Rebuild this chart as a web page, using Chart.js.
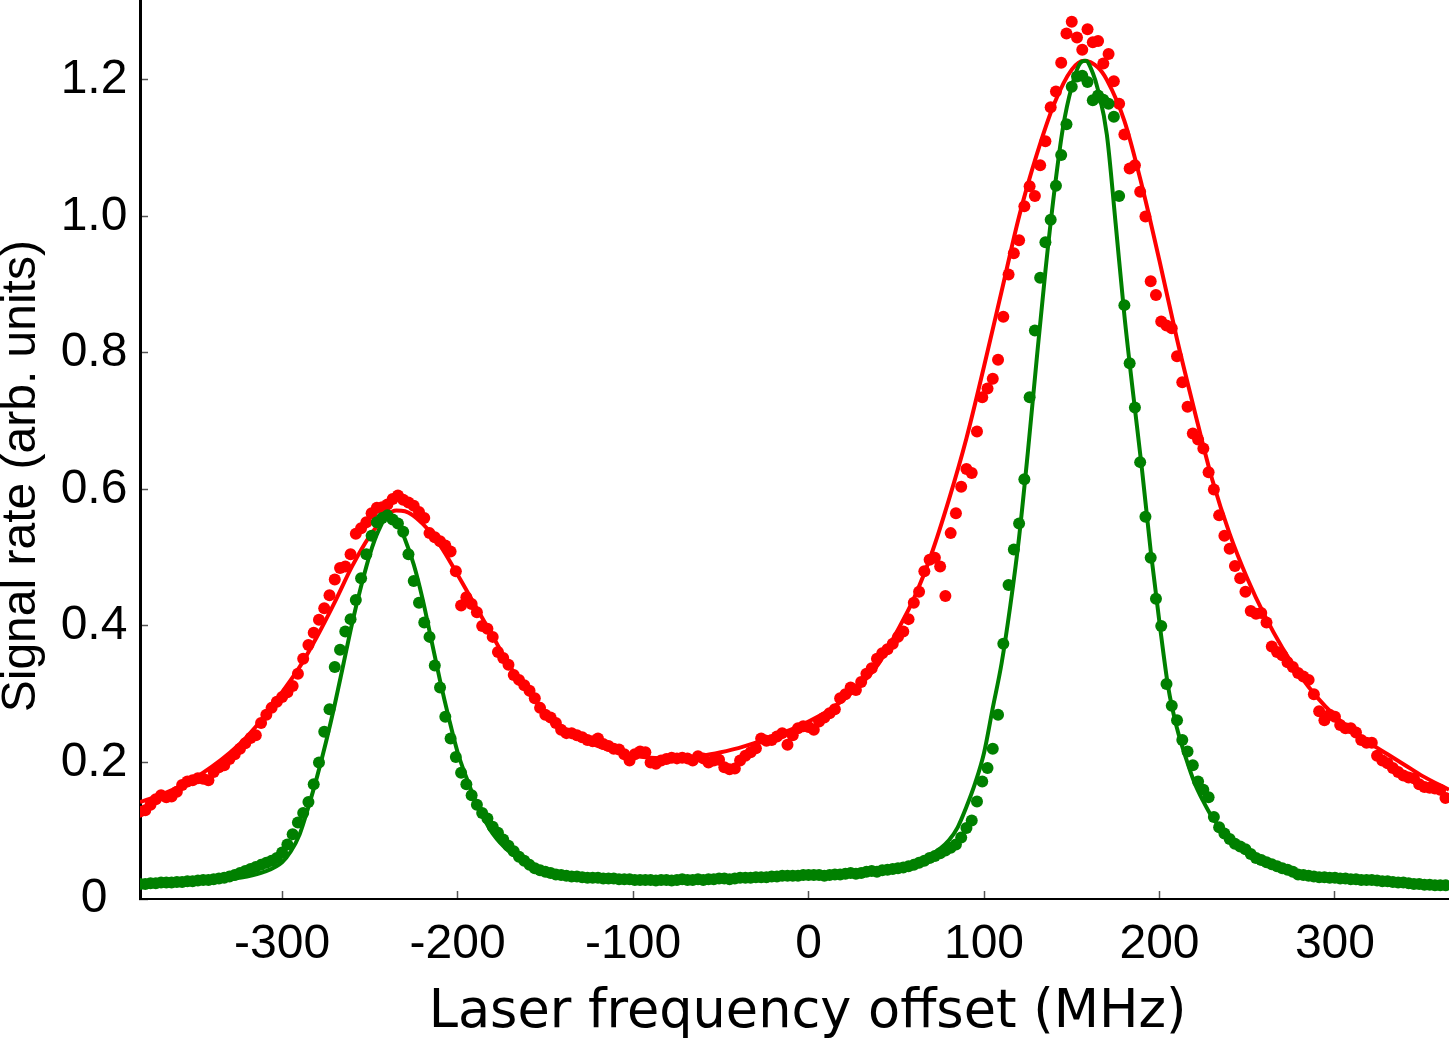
<!DOCTYPE html>
<html><head><meta charset="utf-8">
<script src="https://cdn.jsdelivr.net/npm/chart.js@4/dist/chart.umd.min.js"></script>
<style>html,body{margin:0;padding:0;background:#fff;}canvas{display:block;}</style>
</head><body>
<canvas id="c" width="1449" height="1040"></canvas>
<script>
// Measured frequencies (MHz)
const freqMHz = [
-381,-378,-375,-372,-369,-366,-363,-360,-357,-354,
-351,-348,-345,-342,-339,-336,-333,-330,-327,-324,
-321,-318,-315,-312,-309,-306,-303,-300,-297,-294,
-291,-288,-285,-282,-279,-276,-273,-270,-267,-264,
-261,-258,-255,-252,-249,-246,-243,-240,-237,-234,
-231,-228,-225,-222,-219,-216,-213,-210,-207,-204,
-201,-198,-195,-192,-189,-186,-183,-180,-177,-174,
-171,-168,-165,-162,-159,-156,-153,-150,-147,-144,
-141,-138,-135,-132,-129,-126,-123,-120,-117,-114,
-111,-108,-105,-102,-99,-96,-93,-90,-87,-84,
-81,-78,-75,-72,-69,-66,-63,-60,-57,-54,
-51,-48,-45,-42,-39,-36,-33,-30,-27,-24,
-21,-18,-15,-12,-9,-6,-3,0,3,6,
9,12,15,18,21,24,27,30,33,36,
39,42,45,48,51,54,57,60,63,66,
69,72,75,78,81,84,87,90,93,96,
99,102,105,108,111,114,117,120,123,126,
129,132,135,138,141,144,147,150,153,156,
159,162,165,168,171,174,177,180,183,186,
189,192,195,198,201,204,207,210,213,216,
219,222,225,228,231,234,237,240,243,246,
249,252,255,258,261,264,267,270,273,276,
279,282,285,288,291,294,297,300,303,306,
309,312,315,318,321,324,327,330,333,336,
339,342,345,348,351,354,357,360,363
];
// Red measured signal
const redSignal = [
0.128,0.13,0.138,0.146,0.152,0.149,0.15,0.157,0.167,0.172,
0.174,0.177,0.176,0.174,0.186,0.193,0.196,0.205,0.212,0.22,
0.228,0.236,0.24,0.258,0.27,0.28,0.289,0.296,0.303,0.312,
0.33,0.352,0.372,0.39,0.409,0.426,0.445,0.468,0.485,0.487,
0.505,0.535,0.543,0.552,0.565,0.573,0.574,0.578,0.586,0.591,
0.585,0.581,0.576,0.567,0.558,0.536,0.53,0.524,0.518,0.509,
0.48,0.43,0.442,0.432,0.42,0.4,0.396,0.384,0.362,0.353,
0.343,0.328,0.321,0.313,0.305,0.294,0.28,0.27,0.266,0.258,
0.248,0.243,0.243,0.24,0.237,0.233,0.231,0.235,0.227,0.224,
0.22,0.219,0.212,0.203,0.212,0.216,0.215,0.2,0.198,0.203,
0.205,0.207,0.206,0.207,0.206,0.203,0.209,0.206,0.2,0.203,
0.204,0.193,0.19,0.191,0.203,0.21,0.215,0.221,0.235,0.232,
0.233,0.238,0.243,0.226,0.24,0.25,0.253,0.252,0.248,0.26,
0.266,0.272,0.278,0.294,0.3,0.31,0.306,0.318,0.33,0.338,
0.352,0.36,0.366,0.374,0.384,0.392,0.41,0.434,0.45,0.48,
0.497,0.5,0.487,0.444,0.536,0.565,0.604,0.63,0.624,0.685,
0.735,0.748,0.762,0.79,0.853,0.915,0.946,0.965,1.015,1.044,
1.03,1.075,1.11,1.16,1.183,1.225,1.268,1.285,1.262,1.244,
1.274,1.255,1.257,1.224,1.238,1.198,1.165,1.12,1.07,1.075,
1.036,1.0,0.905,0.885,0.846,0.84,0.836,0.795,0.757,0.721,
0.682,0.673,0.66,0.625,0.6,0.562,0.532,0.513,0.488,0.47,
0.45,0.422,0.418,0.419,0.405,0.37,0.362,0.357,0.347,0.34,
0.331,0.326,0.321,0.3,0.275,0.262,0.27,0.267,0.255,0.25,
0.25,0.244,0.233,0.229,0.229,0.21,0.203,0.199,0.192,0.186,
0.181,0.178,0.177,0.168,0.164,0.163,0.162,0.16,0.148
];
// Green measured signal
const greenSignal = [
0.022,0.022,0.023,0.023,0.024,0.024,0.024,0.025,0.025,0.026,
0.026,0.027,0.028,0.028,0.029,0.03,0.031,0.033,0.035,0.038,
0.041,0.044,0.047,0.05,0.053,0.056,0.06,0.068,0.08,0.095,
0.112,0.126,0.142,0.168,0.2,0.245,0.278,0.34,0.365,0.392,
0.41,0.438,0.47,0.505,0.532,0.552,0.558,0.562,0.556,0.55,
0.538,0.505,0.466,0.434,0.405,0.384,0.342,0.31,0.267,0.235,
0.208,0.185,0.168,0.152,0.138,0.126,0.118,0.106,0.097,0.087,
0.078,0.07,0.062,0.056,0.05,0.045,0.042,0.04,0.038,0.036,
0.035,0.034,0.033,0.033,0.032,0.031,0.031,0.031,0.03,0.03,
0.03,0.029,0.029,0.029,0.028,0.028,0.028,0.028,0.027,0.028,
0.028,0.027,0.028,0.029,0.028,0.028,0.029,0.028,0.029,0.029,
0.03,0.03,0.029,0.03,0.031,0.031,0.031,0.032,0.032,0.032,
0.033,0.033,0.034,0.034,0.034,0.034,0.035,0.035,0.035,0.035,
0.034,0.035,0.036,0.036,0.037,0.038,0.037,0.038,0.04,0.041,
0.04,0.042,0.043,0.044,0.045,0.046,0.048,0.05,0.053,0.056,
0.06,0.063,0.067,0.071,0.075,0.08,0.09,0.104,0.115,0.143,
0.172,0.192,0.22,0.27,0.374,0.46,0.512,0.55,0.615,0.735,
0.833,0.91,0.962,0.995,1.045,1.09,1.135,1.19,1.205,1.206,
1.197,1.17,1.177,1.171,1.165,1.146,1.03,0.87,0.785,0.72,
0.64,0.56,0.5,0.44,0.4,0.315,0.283,0.262,0.233,0.216,
0.196,0.172,0.16,0.149,0.12,0.105,0.096,0.088,0.081,0.077,
0.073,0.066,0.06,0.057,0.054,0.051,0.048,0.045,0.043,0.04,
0.036,0.035,0.034,0.033,0.032,0.032,0.031,0.031,0.03,0.03,
0.029,0.029,0.028,0.028,0.028,0.027,0.026,0.026,0.025,0.024,
0.024,0.023,0.022,0.022,0.021,0.021,0.02,0.02,0.02
];
// Fit curves
const redFitFreq = [-381,-370,-360,-350,-340,-330,-320,-310,-300,-290,-280,-270,-260,-250,-240,-235,-230,-220,-210,-200,
-190,-180,-170,-160,-150,-140,-130,-120,-110,-100,-90,-80,-70,-60,-50,-40,-30,-20,-10,
0,10,20,30,40,50,60,70,80,90,100,110,120,130,140,150,157,165,170,
180,190,200,210,220,230,240,250,260,270,280,290,300,310,320,330,340,350,365];
const redFitSignal = [0.142,0.152,0.163,0.177,0.194,0.214,0.238,0.268,0.303,0.34,0.385,0.435,0.488,0.532,0.563,0.569,0.568,0.55,0.518,0.475,
0.43,0.385,0.34,0.303,0.273,0.25,0.235,0.224,0.216,0.21,0.207,0.206,0.207,0.21,0.215,0.221,0.229,0.238,0.248,
0.26,0.274,0.292,0.315,0.345,0.39,0.44,0.505,0.585,0.675,0.78,0.89,1.0,1.09,1.165,1.215,1.228,1.218,1.2,
1.14,1.045,0.935,0.82,0.715,0.615,0.535,0.47,0.415,0.368,0.328,0.295,0.268,0.246,0.228,0.212,0.196,0.18,0.16];
const greenFitFreq = [-381,-360,-340,-320,-310,-300,-295,-290,-285,-280,-275,-270,-265,-260,-255,-250,-245,-240,-235,-230,
-225,-220,-215,-210,-205,-200,-195,-190,-185,-180,-170,-160,-150,-130,-100,-70,-40,-10,0,20,
40,55,65,75,80,85,90,95,100,105,110,115,120,125,130,135,140,145,150,155,
158,162,165,170,175,180,185,190,195,200,205,210,215,220,225,230,240,250,260,280,300,330,365];
const greenFitSignal = [0.022,0.024,0.027,0.033,0.04,0.054,0.07,0.095,0.135,0.18,0.23,0.285,0.345,0.405,0.458,0.505,0.54,0.56,0.556,0.527,
0.49,0.44,0.38,0.32,0.265,0.215,0.178,0.145,0.118,0.096,0.068,0.05,0.04,0.033,0.029,0.028,0.03,0.033,0.035,0.038,
0.043,0.05,0.058,0.074,0.086,0.105,0.135,0.17,0.214,0.28,0.345,0.43,0.53,0.655,0.79,0.92,1.035,1.13,1.19,1.225,
1.228,1.21,1.185,1.12,0.99,0.855,0.74,0.63,0.51,0.405,0.31,0.25,0.207,0.17,0.143,0.12,0.088,0.067,0.053,0.039,0.032,0.026,0.021];
const xTickValues = [-300,-200,-100,0,100,200,300];
const yTickValues = [0,0.2,0.4,0.6,0.8,1.0,1.2];

const pairs = (xs, ys) => xs.map((x, i) => ({x: x, y: ys[i]}));
const RED = '#ff0000', GREEN = '#008000';
const tickFont = {family: '"Liberation Sans", Arial, sans-serif', size: 48};
const noPad = s => { s.paddingTop = 0; s.paddingBottom = 0; s.paddingLeft = 0; s.paddingRight = 0; };

new Chart(document.getElementById('c'), {
  type: 'scatter',
  data: {
    datasets: [
      {type: 'line', label: 'Green fit', data: pairs(greenFitFreq, greenFitSignal), borderColor: GREEN, borderWidth: 4,
       pointRadius: 0, fill: false, cubicInterpolationMode: 'monotone', clip: 0, order: 1},
      {label: 'Green data', data: pairs(freqMHz, greenSignal), backgroundColor: GREEN, borderWidth: 0,
       pointRadius: 6, clip: 0, order: 2},
      {type: 'line', label: 'Red fit', data: pairs(redFitFreq, redFitSignal), borderColor: RED, borderWidth: 4,
       pointRadius: 0, fill: false, cubicInterpolationMode: 'monotone', clip: 0, order: 3},
      {label: 'Red data', data: pairs(freqMHz, redSignal), backgroundColor: RED, borderWidth: 0,
       pointRadius: 6, clip: 0, order: 4}
    ]
  },
  options: {
    responsive: false,
    animation: false,
    events: [],
    devicePixelRatio: 1,
    layout: {padding: 0, autoPadding: false},
    plugins: {legend: {display: false}, tooltip: {enabled: false}},
    scales: {
      x: {
        type: 'linear', min: -381, max: 365,
        afterBuildTicks: s => { s.ticks = xTickValues.map(v => ({value: v})); },
        afterFit: s => { s.height = 141; noPad(s); },
        grid: {drawOnChartArea: false, drawTicks: true, tickLength: -8, tickColor: '#555', tickWidth: 1.5},
        border: {display: true, color: '#000', width: 2},
        ticks: {font: tickFont, color: '#000', padding: 24.5, maxRotation: 0, autoSkip: false},
        title: {display: true, text: '\u2002Laser frequency offset (MHz)', color: '#000', padding: 0,
                font: {family: '"DejaVu Sans", sans-serif', size: 52.5, lineHeight: 1}}
      },
      y: {
        type: 'linear', min: 0, max: 1.317,
        afterBuildTicks: s => { s.ticks = yTickValues.map(v => ({value: v})); },
        afterFit: s => { s.width = 140; noPad(s); },
        grid: {drawOnChartArea: false, drawTicks: true, tickLength: -8, tickColor: '#555', tickWidth: 1.5},
        border: {display: true, color: '#000', width: 3},
        ticks: {font: tickFont, color: '#000', padding: 20.6, crossAlign: 'center', autoSkip: false,
                callback: v => (v === 0 ? '0' : Number(v).toFixed(1))},
        title: {display: true, text: 'Signal rate (arb. units)    ', color: '#000', padding: 0,
                font: {family: '"Liberation Sans", Arial, sans-serif', size: 48, lineHeight: 0.9}}
      }
    }
  }
});
</script>
</body></html>
